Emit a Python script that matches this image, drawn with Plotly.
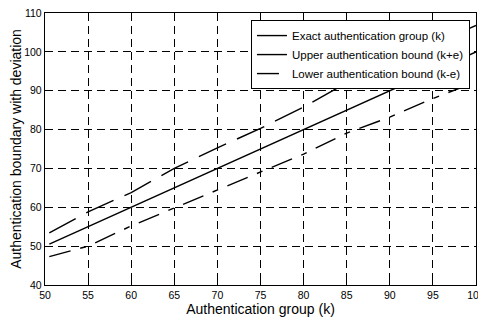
import plotly.graph_objects as go

k_exact = [50.5, 55, 60, 65, 70, 75, 80, 85, 90, 95, 100]
v_exact = [50.5, 55, 60, 65, 70, 75, 80, 85, 90, 95, 100]

k_upper = [50.5, 55, 60, 65, 70, 75, 80, 85, 90, 95, 100]
v_upper = [53.4, 58.8, 63.8, 70.0, 75.3, 80.3, 85.8, 92.0, 97.0, 101.8, 106.8]

k_lower = [50.5, 55, 60, 65, 70, 75, 80, 85, 90, 95, 100]
v_lower = [47.3, 50.0, 55.2, 59.8, 64.4, 69.0, 73.7, 79.1, 83.2, 88.0, 92.3]

x_ticks = [50, 55, 60, 65, 70, 75, 80, 85, 90, 95, 100]
y_ticks = [40, 50, 60, 70, 80, 90, 100, 110]

fig = go.Figure()
fig.add_trace(go.Scatter(x=k_exact, y=v_exact, mode="lines",
                         name="Exact authentication group (k)",
                         line=dict(color="black", width=1.4)))
fig.add_trace(go.Scatter(x=k_upper, y=v_upper, mode="lines",
                         name="Upper authentication bound (k+e)",
                         line=dict(color="black", width=1.4, dash="30px,12px")))
fig.add_trace(go.Scatter(x=k_lower, y=v_lower, mode="lines",
                         name="Lower authentication bound (k-e)",
                         line=dict(color="black", width=1.4, dash="22px,10px,6px,10px")))

font_family = "Liberation Sans, Arial, sans-serif"
axis_common = dict(
    showline=True, linecolor="black", linewidth=1.4, mirror=True,
    showgrid=True, gridcolor="black", gridwidth=1.2, griddash="8px,5px",
    ticks="inside", ticklen=4, tickcolor="black",
    zeroline=False, automargin=False, ticklabeloverflow="allow",
    tickfont=dict(family=font_family, size=10.5, color="black"),
)

# page body has an 8px default margin, so the figure is sized/offset to compensate
fig.update_layout(
    width=478, height=316,
    margin=dict(l=37, r=10, t=5, b=39),
    paper_bgcolor="white", plot_bgcolor="white",
    showlegend=True,
    legend=dict(x=0.986, y=0.974, xanchor="right", yanchor="top",
                bgcolor="white", bordercolor="black", borderwidth=1,
                font=dict(family=font_family, size=11.5, color="black"),
                tracegroupgap=0, itemwidth=30),
    xaxis=dict(range=[50, 100], tickvals=x_ticks,
               title=dict(text="Authentication group (k)", standoff=4,
                          font=dict(family=font_family, size=14, color="black")),
               **axis_common),
    yaxis=dict(range=[40, 110], tickvals=y_ticks,
               title=dict(text="Authentication boundary with deviation", standoff=5,
                          font=dict(family=font_family, size=14, color="black")),
               **axis_common),
)

fig.write_html("out.html")
